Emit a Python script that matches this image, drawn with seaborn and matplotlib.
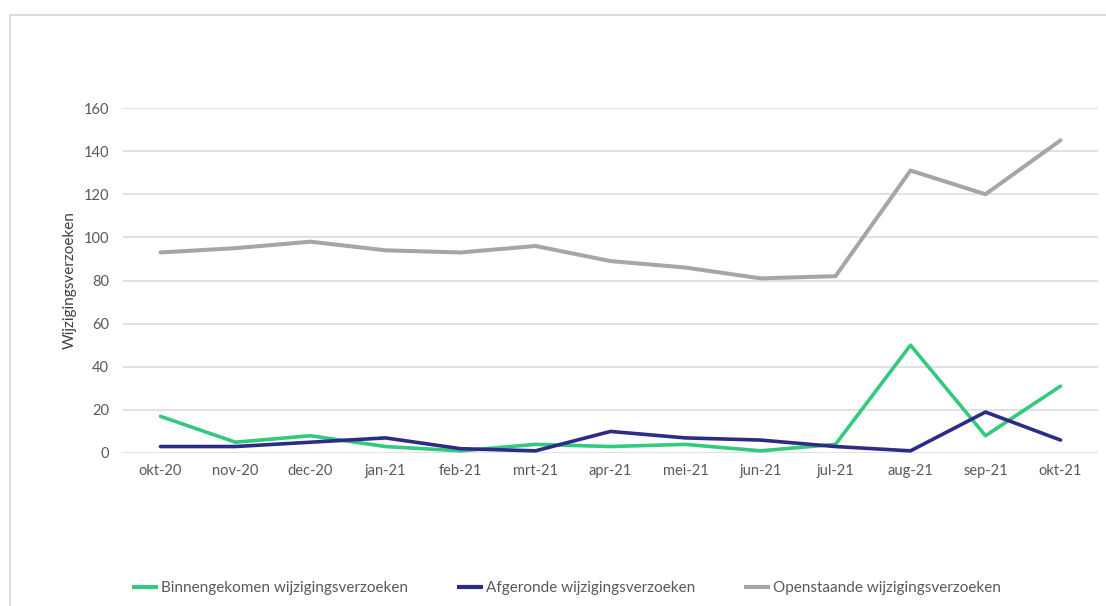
import matplotlib
matplotlib.use("Agg")
import matplotlib.pyplot as plt
import matplotlib.patches as mpatches
import seaborn as sns
import pandas as pd

months = ["okt-20", "nov-20", "dec-20", "jan-21", "feb-21", "mrt-21", "apr-21",
          "mei-21", "jun-21", "jul-21", "aug-21", "sep-21", "okt-21"]
binnengekomen = [17, 5, 8, 3, 1, 4, 3, 4, 1, 4, 50, 8, 31]
afgerond = [3, 3, 5, 7, 2, 1, 10, 7, 6, 3, 1, 19, 6]
openstaand = [93, 95, 98, 94, 93, 96, 89, 86, 81, 82, 131, 120, 145]
series_names = ["Binnengekomen wijzigingsverzoeken",
                "Afgeronde wijzigingsverzoeken",
                "Openstaande wijzigingsverzoeken"]
colors = ["#33C97E", "#2D2A88", "#A6A6A6"]
yticks = [0, 20, 40, 60, 80, 100, 120, 140, 160]

sns.set_theme(style="white")
plt.rcParams["font.family"] = ["Lato", "DejaVu Sans"]

rows = []
for name, vals in zip(series_names, [binnengekomen, afgerond, openstaand]):
    for i, (m, v) in enumerate(zip(months, vals)):
        rows.append({"idx": i, "month": m, "value": v, "series": name})
df = pd.DataFrame(rows)

fig = plt.figure(figsize=(11.06, 6.06), dpi=100)
ax = fig.add_axes([123 / 1106, 1 - 453 / 606, (1098 - 123) / 1106, (453 - 108) / 606])

sns.lineplot(data=df, x="idx", y="value", hue="series", hue_order=series_names,
             palette=dict(zip(series_names, colors)), linewidth=2.6, ax=ax,
             legend=False, zorder=3)
for ln in ax.get_lines():
    ln.set_solid_capstyle("round")
    ln.set_solid_joinstyle("round")
ax.get_lines()[2].set_linewidth(2.9)

ax.set_xlim(-0.5, len(months) - 0.5)
ax.set_ylim(0, 160)
ax.set_xticks(range(len(months)))
ax.set_xticklabels(months)
ax.set_yticks(yticks)
ax.set_yticklabels([str(t) for t in yticks])
ax.tick_params(axis="both", length=0, labelsize=10.5, colors="#595959")
ax.tick_params(axis="x", pad=8)
ax.tick_params(axis="y", pad=10)
ax.grid(axis="y", color="#D9D9D9", linewidth=1.1)
ax.set_axisbelow(True)
for s in ax.spines.values():
    s.set_visible(False)
ax.set_xlabel("")
ax.set_ylabel("Wijzigingsverzoeken", fontsize=11, color="#404040", labelpad=5)

handles = [plt.Line2D([], [], color=c, linewidth=3, solid_capstyle="butt") for c in colors]
fig.legend(handles, series_names, loc="center", bbox_to_anchor=(0.512, 1 - 588 / 606),
           ncol=3, frameon=False, fontsize=11, handlelength=1.7, handletextpad=0.2,
           columnspacing=3.2, labelcolor="#595959")

border = mpatches.Rectangle((10 / 1106, -0.1), 1.2, 1 - 15 / 606 + 0.1,
                            transform=fig.transFigure, fill=False,
                            edgecolor="#D9D9D9", linewidth=1.3)
fig.patches.append(border)

fig.savefig("out.png", dpi=100, facecolor="white")
